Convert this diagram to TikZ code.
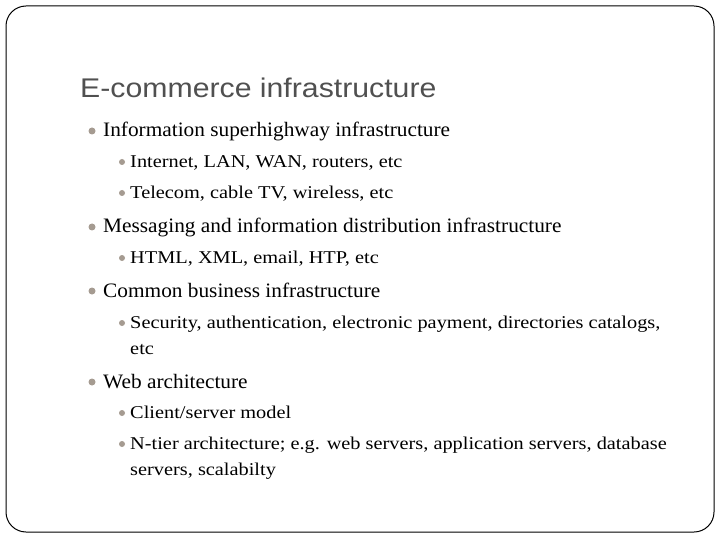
\documentclass[tikz,border=0pt]{standalone}
\usepackage{fontspec}
\setmainfont{Liberation Serif}
\newfontfamily\titlefont{Liberation Sans}
\definecolor{bul}{RGB}{165,155,145}
\definecolor{ttl}{RGB}{80,80,80}
\begin{document}
\begin{tikzpicture}[x=1pt,y=-1pt,
  lone/.style={anchor=base west,inner sep=0pt,font=\fontsize{20.5}{24}\selectfont,xscale=1.04},
  ltwo/.style={anchor=base west,inner sep=0pt,font=\fontsize{18}{26}\selectfont,align=left,xscale=1.13},
  dot/.style={circle,fill=bul,inner sep=0pt,minimum size=7pt}]
\useasboundingbox (0,0) rectangle (720,540);
\draw[line width=1pt,rounded corners=20pt] (6,6) rectangle (714,532);
\node[anchor=base west,inner sep=0pt,text=ttl,font=\titlefont\fontsize{27}{30}\selectfont,xscale=1.12] (t) at (80,98) {E-commerce infrastructure};
\foreach \y/\n/\t in {131/a/Information superhighway infrastructure,227/b/Messaging and information distribution infrastructure,291/c/Common business infrastructure,382/d/Web architecture}{
  \node[dot] (d\n) at (92,\y) {};
  \node[lone] (n\n) at (103,\y+6) {\t};
}
\foreach \y/\n/\t in {162/e/{Internet, LAN, WAN, routers, etc},193/f/{Telecom, cable TV, wireless, etc},258/g/{HTML, XML, email, HTP, etc},413/i/{Client/server model}}{
  \node[dot,minimum size=6pt] (d\n) at (122,\y) {};
  \node[ltwo] (n\n) at (130,\y+5.5) {\t};
}
\foreach \y/\n/\t in {323/h/{Security, authentication, electronic payment, directories catalogs,\\etc},444/j/{N-tier architecture; e.g. web servers, application servers, database\\servers, scalabilty}}{
  \node[dot,minimum size=6pt] (d\n) at (122,\y) {};
  \node[ltwo] (n\n) at (130,\y+31.5) {\t};
}
\end{tikzpicture}
\end{document}
